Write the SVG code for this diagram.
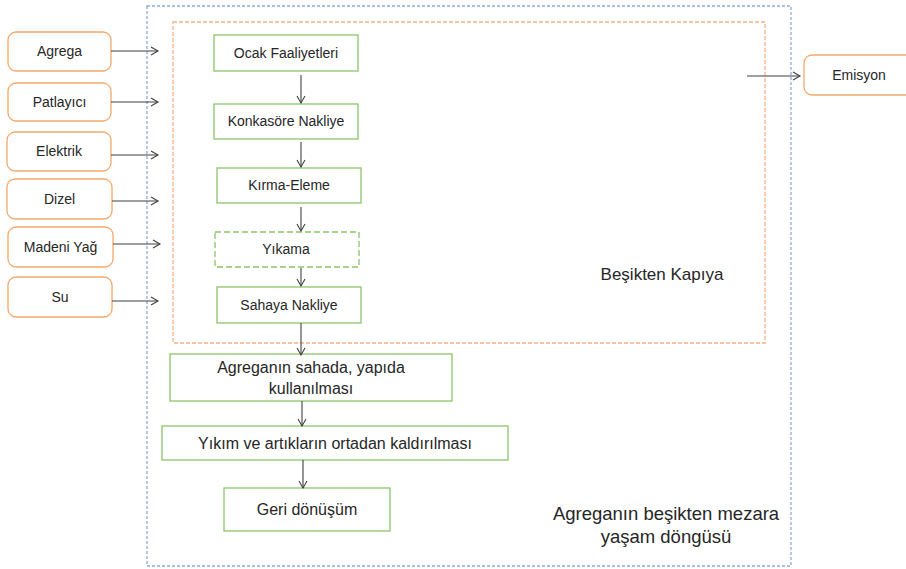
<svg xmlns="http://www.w3.org/2000/svg" width="906" height="569" viewBox="0 0 906 569">
<defs>
<marker id="ah" markerWidth="10" markerHeight="10" refX="8" refY="5" orient="auto" markerUnits="userSpaceOnUse">
<path d="M1,1 L8,5 L1,9" fill="none" stroke="#404040" stroke-width="1.1"/>
</marker>
<style>
.in{fill:#fff;stroke:#F4A86A;stroke-width:1.3}
.pr{fill:#fff;stroke:#8CC56A;stroke-width:1.3}
.prd{fill:#fff;stroke:#8CC56A;stroke-width:1.3;stroke-dasharray:6,3}
.t{font-family:"Liberation Sans",Arial,sans-serif;font-size:14px;fill:#262626;text-anchor:middle}
.m{font-family:"Liberation Sans",Arial,sans-serif;font-size:16px;fill:#262626;text-anchor:middle}
.big{font-family:"Liberation Sans",Arial,sans-serif;font-size:17px;fill:#262626;text-anchor:middle}
.c{stroke:#404040;stroke-width:1.1;fill:none;marker-end:url(#ah)}
</style>
</defs>
<rect width="906" height="569" fill="#fff"/>
<g id="lifecycle">
<rect x="147" y="6" width="644" height="560" fill="none" stroke="#8FAADC" stroke-width="1.3" stroke-dasharray="3,2"/>
<text class="big" x="666" y="520" style="font-size:18.5px">Agreganın beşikten mezara</text>
<text class="big" x="666" y="543" style="font-size:18.5px">yaşam döngüsü</text>
</g>
<g id="cradle-to-gate">
<rect x="173" y="22" width="592" height="321" fill="none" stroke="#F4B183" stroke-width="1.3" stroke-dasharray="4,2"/>
<text class="big" x="662" y="280">Beşikten Kapıya</text>
</g>
<g id="agrega"><rect class="in" x="8" y="32" width="103" height="39" rx="8"/><text class="t" x="59.5" y="56">Agrega</text></g>
<g id="patlayici"><rect class="in" x="8" y="83" width="103" height="38" rx="8"/><text class="t" x="59.5" y="107">Patlayıcı</text></g>
<g id="elektrik"><rect class="in" x="7" y="132" width="104" height="39" rx="8"/><text class="t" x="59" y="156">Elektrik</text></g>
<g id="dizel"><rect class="in" x="7" y="179" width="105" height="40" rx="8"/><text class="t" x="59.5" y="204">Dizel</text></g>
<g id="madeni-yag"><rect class="in" x="8" y="227" width="105" height="40" rx="8"/><text class="t" x="60.5" y="252">Madeni Yağ</text></g>
<g id="su"><rect class="in" x="8" y="277" width="104" height="40" rx="8"/><text class="t" x="60" y="302">Su</text></g>
<g id="emisyon"><rect class="in" x="804" y="55" width="120" height="40" rx="8"/><text class="t" x="859" y="80">Emisyon</text></g>
<g id="ocak"><rect class="pr" x="214" y="35" width="144" height="36"/><text class="t" x="286" y="58">Ocak Faaliyetleri</text></g>
<g id="konkasore"><rect class="pr" x="214" y="104" width="144" height="35"/><text class="t" x="286" y="126">Konkasöre Nakliye</text></g>
<g id="kirma"><rect class="pr" x="217" y="168" width="144" height="35"/><text class="t" x="289" y="190">Kırma-Eleme</text></g>
<g id="yikama"><rect class="prd" x="215" y="232" width="144" height="35"/><text class="t" x="286" y="254">Yıkama</text></g>
<g id="sahaya"><rect class="pr" x="217" y="287" width="144" height="36"/><text class="t" x="289" y="310">Sahaya Nakliye</text></g>
<g id="kullanim"><rect class="pr" x="170" y="354" width="282" height="47"/><text class="m" x="311" y="373">Agreganın sahada, yapıda</text><text class="m" x="311" y="394">kullanılması</text></g>
<g id="yikim"><rect class="pr" x="162" y="426" width="346" height="34"/><text class="m" x="335" y="449">Yıkım ve artıkların ortadan kaldırılması</text></g>
<g id="geri"><rect class="pr" x="224" y="488" width="166" height="43"/><text class="m" x="307" y="515">Geri dönüşüm</text></g>
<g id="connectors">
<line class="c" x1="111" y1="51" x2="158" y2="51"/>
<line class="c" x1="111" y1="102" x2="158" y2="102"/>
<line class="c" x1="111" y1="155" x2="158" y2="155"/>
<line class="c" x1="112" y1="201" x2="158" y2="201"/>
<line class="c" x1="113" y1="244" x2="160" y2="244"/>
<line class="c" x1="112" y1="301" x2="158" y2="301"/>
<line class="c" x1="747" y1="76" x2="800" y2="76"/>
<line class="c" x1="301" y1="75" x2="301" y2="103"/>
<line class="c" x1="301" y1="142" x2="301" y2="167"/>
<line class="c" x1="301" y1="207" x2="301" y2="231"/>
<line class="c" x1="301" y1="268" x2="301" y2="286"/>
<line class="c" x1="301" y1="323" x2="301" y2="355"/>
<line class="c" x1="302" y1="401" x2="302" y2="426"/>
<line class="c" x1="303" y1="460" x2="303" y2="488"/>
</g>
</svg>
